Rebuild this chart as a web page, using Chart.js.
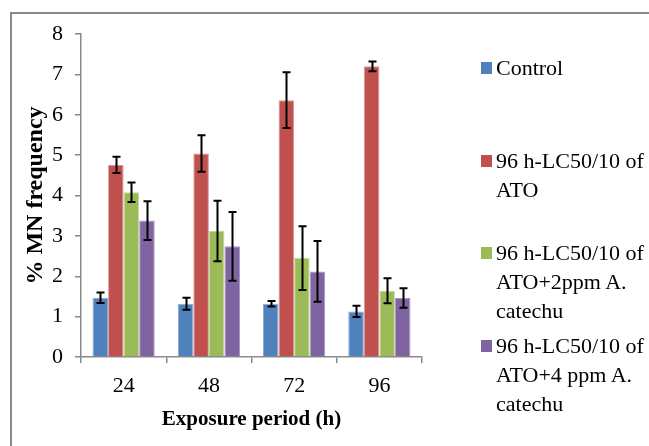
<!DOCTYPE html>
<html>
<head>
<meta charset="utf-8">
<script src="https://cdn.jsdelivr.net/npm/chart.js@4.4.0/dist/chart.umd.min.js"></script>
<style>
    html, body { margin: 0; padding: 0; background: #fff; overflow: hidden; }
    #wrap { position: relative; width: 649px; height: 446px; }
    #frame {
        position: absolute; left: 10px; top: 12px; width: 700px; height: 500px;
        border-top: 2px solid #8a8a8a; border-left: 2px solid #8a8a8a;
    }
    #chart { position: absolute; left: 0; top: 0; }
    #legend { position: absolute; left: 0; top: 0; font-family: "Liberation Serif", serif; font-size: 22px; color: #000; }
    .item { position: absolute; left: 481px; white-space: pre-line; line-height: 29px; }
    .sw { position: absolute; left: 0; top: 9px; width: 11px; height: 12px; }
    .txt { position: absolute; left: 15px; top: 0; width: 170px; }
</style>
</head>
<body>
<div id="wrap">
    <div id="frame"></div>
    <canvas id="chart" width="649" height="446"></canvas>
    <div id="legend"></div>
</div>
<script>
const periods = ["24", "48", "72", "96"];
const yTicks = [0, 1, 2, 3, 4, 5, 6, 7, 8];

const seriesNames = [
    "Control",
    "96 h-LC50/10 of\nATO",
    "96 h-LC50/10 of\nATO+2ppm A.\ncatechu",
    "96 h-LC50/10 of\nATO+4 ppm A.\ncatechu"
];

const controlVals = [1.47, 1.32, 1.32, 1.13];
const atoVals = [4.76, 5.04, 6.36, 7.20];
const ato2ppmVals = [4.08, 3.12, 2.45, 1.64];
const ato4ppmVals = [3.38, 2.74, 2.12, 1.46];

const controlErr = [0.13, 0.15, 0.07, 0.14];
const atoErr = [0.20, 0.45, 0.69, 0.12];
const ato2ppmErr = [0.24, 0.75, 0.79, 0.31];
const ato4ppmErr = [0.48, 0.85, 0.75, 0.24];

const colors = ["#4f81bd", "#c0504d", "#9bbb59", "#8064a2"];
const edges = ["#8aaad6", "#dc9593", "#c3d99a", "#ab99c5"];

const allVals = [controlVals, atoVals, ato2ppmVals, ato4ppmVals];
const allErr = [controlErr, atoErr, ato2ppmErr, ato4ppmErr];

// error bars drawn from the y scale
const errorBars = {
    id: "errorBars",
    afterDatasetsDraw(chart) {
        const ctx = chart.ctx;
        const y = chart.scales.y;
        ctx.save();
        ctx.strokeStyle = "#000";
        ctx.lineWidth = 2;
        chart.data.datasets.forEach((ds, di) => {
            const meta = chart.getDatasetMeta(di);
            meta.data.forEach((bar, i) => {
                const v = ds.data[i];
                const e = ds.errors[i];
                const top = y.getPixelForValue(v + e);
                const bot = y.getPixelForValue(v - e);
                const x = Math.round(bar.x) + 0.5;
                ctx.beginPath();
                ctx.moveTo(x, top);
                ctx.lineTo(x, bot);
                ctx.moveTo(x - 4, top);
                ctx.lineTo(x + 4, top);
                ctx.moveTo(x - 4, bot);
                ctx.lineTo(x + 4, bot);
                ctx.stroke();
            });
        });
        ctx.restore();
    }
};

const ctx = document.getElementById("chart").getContext("2d");

new Chart(ctx, {
    type: "bar",
    data: {
        labels: periods,
        datasets: allVals.map((vals, i) => ({
            label: seriesNames[i],
            data: vals,
            errors: allErr[i],
            backgroundColor: colors[i],
            borderColor: edges[i],
            borderWidth: 1,
            categoryPercentage: 0.73,
            barPercentage: 1.0
        }))
    },
    options: {
        responsive: false,
        animation: false,
        devicePixelRatio: 1,
        layout: { padding: { left: 0, top: 34, right: 227, bottom: 0 } },
        plugins: { legend: { display: false }, tooltip: { enabled: false } },
        scales: {
            y: {
                min: 0,
                max: 8,
                afterFit: (s) => { s.width = 81; },
                afterBuildTicks: (s) => { s.ticks = yTicks.map(v => ({ value: v })); },
                ticks: {
                    color: "#000",
                    padding: 12,
                    font: { family: "Liberation Serif", size: 22 }
                },
                grid: { drawOnChartArea: false, tickLength: 6, color: "#898989", lineWidth: 1.5 },
                border: { color: "#898989", width: 1.5 },
                title: {
                    display: true,
                    text: "% MN frequency",
                    color: "#000",
                    padding: { top: 21, bottom: 0 },
                    font: { family: "Liberation Serif", size: 24, weight: "bold" }
                }
            },
            x: {
                afterFit: (s) => { s.height = 89; },
                ticks: {
                    color: "#000",
                    padding: 10,
                    font: { family: "Liberation Serif", size: 22 }
                },
                grid: { drawOnChartArea: false, tickLength: 6, color: "#898989", lineWidth: 1.5 },
                border: { color: "#898989", width: 1.5 },
                title: {
                    display: true,
                    text: "Exposure period (h)",
                    color: "#000",
                    padding: { top: 0, bottom: 14 },
                    font: { family: "Liberation Serif", size: 21, weight: "bold" }
                }
            }
        }
    },
    plugins: [errorBars]
});

// legend on the right
const legendTops = [53, 146, 238, 331];
const legend = document.getElementById("legend");
seriesNames.forEach((name, i) => {
    const item = document.createElement("div");
    item.className = "item";
    item.style.top = legendTops[i] + "px";
    const sw = document.createElement("div");
    sw.className = "sw";
    sw.style.background = colors[i];
    const txt = document.createElement("div");
    txt.className = "txt";
    txt.textContent = name;
    item.appendChild(sw);
    item.appendChild(txt);
    legend.appendChild(item);
});
</script>
</body>
</html>
